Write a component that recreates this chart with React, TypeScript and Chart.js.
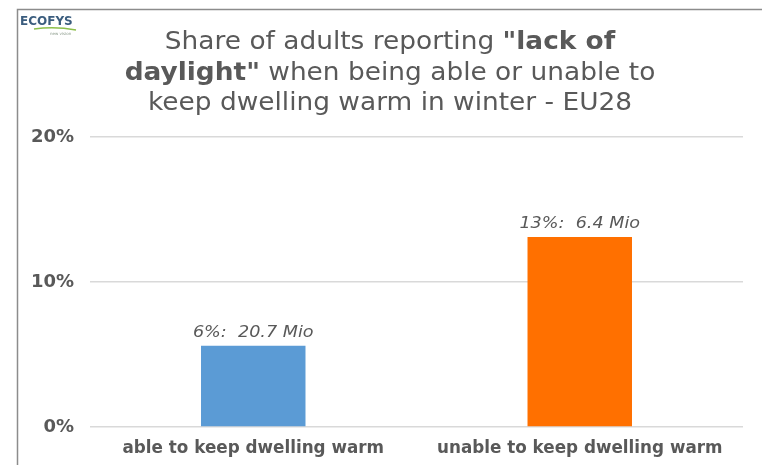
import React, { useEffect, useRef } from "react";
import { Chart, registerables } from "chart.js";

Chart.register(...registerables);

const categories = ["able to keep dwelling warm", "unable to keep dwelling warm"];
const shareValues = [5.6, 13.1];
const barLabels = ["6%:  20.7 Mio", "13%:  6.4 Mio"];
const barColors = ["#5b9bd5", "#ff7000"];
const yTicks = [0, 10, 20];

const titleLines: { text: string; bold: boolean }[][] = [
  [
    { text: "Share of adults reporting ", bold: false },
    { text: "\"lack of", bold: true },
  ],
  [
    { text: "daylight\"", bold: true },
    { text: " when being able or unable to", bold: false },
  ],
  [{ text: "keep dwelling warm in winter - EU28", bold: false }],
];

const FONT = "'DejaVu Sans'";
const TEXT = "#595959";
const STRETCH = 1.1;

const decorPlugin = {
  id: "decor",
  beforeDraw(chart: any) {
    const ctx = chart.ctx;
    ctx.save();
    // frame
    ctx.strokeStyle = "#8c8c8c";
    ctx.lineWidth = 1.5;
    ctx.beginPath();
    ctx.moveTo(17.5, chart.height);
    ctx.lineTo(17.5, 9.5);
    ctx.lineTo(chart.width, 9.5);
    ctx.stroke();
    // logo
    ctx.fillStyle = "#3b5d7e";
    ctx.font = `bold 12px ${FONT}`;
    ctx.textAlign = "left";
    ctx.textBaseline = "alphabetic";
    ctx.fillText("ECOFYS", 20, 25);
    ctx.strokeStyle = "#8cbf4a";
    ctx.lineWidth = 1.5;
    ctx.beginPath();
    ctx.moveTo(34, 29);
    ctx.quadraticCurveTo(55, 26, 76, 30);
    ctx.stroke();
    ctx.fillStyle = "#8a9a8a";
    ctx.font = `4px ${FONT}`;
    ctx.fillText("new vision", 50, 35);
    // title
    const cx = 390;
    const baselines = [49, 80, 110];
    ctx.fillStyle = TEXT;
    titleLines.forEach((parts, i) => {
      let total = 0;
      parts.forEach((p) => {
        ctx.font = `${p.bold ? "bold " : ""}24px ${FONT}`;
        total += ctx.measureText(p.text).width;
      });
      let x = cx - (total * STRETCH) / 2;
      parts.forEach((p) => {
        ctx.font = `${p.bold ? "bold " : ""}24px ${FONT}`;
        const w = ctx.measureText(p.text).width;
        ctx.save();
        ctx.translate(x, baselines[i]);
        ctx.scale(STRETCH, 1);
        ctx.fillText(p.text, 0, 0);
        ctx.restore();
        x += w * STRETCH;
      });
    });
    ctx.restore();
  },
  afterDatasetsDraw(chart: any) {
    const ctx = chart.ctx;
    const meta = chart.getDatasetMeta(0);
    ctx.save();
    ctx.font = `italic 16px ${FONT}`;
    ctx.fillStyle = TEXT;
    ctx.textAlign = "center";
    ctx.textBaseline = "alphabetic";
    meta.data.forEach((bar: any, i: number) => {
      ctx.save();
      ctx.translate(bar.x, bar.y - 9);
      ctx.scale(STRETCH, 1);
      ctx.fillText(barLabels[i], 0, 0);
      ctx.restore();
    });
    ctx.restore();
  },
};

export default function App() {
  const ref = useRef<HTMLCanvasElement>(null);
  useEffect(() => {
    document.body.style.margin = "0";
    const chart = new Chart(ref.current!, {
      type: "bar",
      data: {
        labels: categories,
        datasets: [
          {
            data: shareValues,
            backgroundColor: barColors,
            borderWidth: 0,
            categoryPercentage: 1,
            barPercentage: 0.32,
          },
        ],
      },
      options: {
        animation: false,
        responsive: false,
        devicePixelRatio: 1,
        layout: { padding: { top: 137, right: 19, bottom: 0, left: 0 } },
        plugins: {
          legend: { display: false },
          title: { display: false },
          tooltip: { enabled: false },
        },
        scales: {
          x: {
            grid: { display: false, drawTicks: false },
            border: { display: false },
            ticks: {
              color: TEXT,
              font: { family: FONT, size: 16.8, weight: "bold" },
              padding: 12,
            },
            afterFit(scale: any) {
              scale.height = 38;
            },
          },
          y: {
            min: 0,
            max: 20,
            afterBuildTicks(scale: any) {
              scale.ticks = yTicks.map((v) => ({ value: v }));
            },
            grid: { color: "#d9d9d9", lineWidth: 1.5, drawTicks: false },
            border: { display: false },
            ticks: {
              color: TEXT,
              font: { family: FONT, size: 18, weight: "bold" },
              padding: 16,
              callback: (v: any) => `${v}%`,
            },
            afterFit(scale: any) {
              scale.width = 90;
            },
          },
        },
      },
      plugins: [decorPlugin],
    });
    return () => chart.destroy();
  }, []);
  return (
    <div style={{ position: "absolute", left: 0, top: 0, width: 762, height: 465, background: "#fff" }}>
      <canvas ref={ref} width={762} height={465} style={{ width: 762, height: 465 }} />
    </div>
  );
}
